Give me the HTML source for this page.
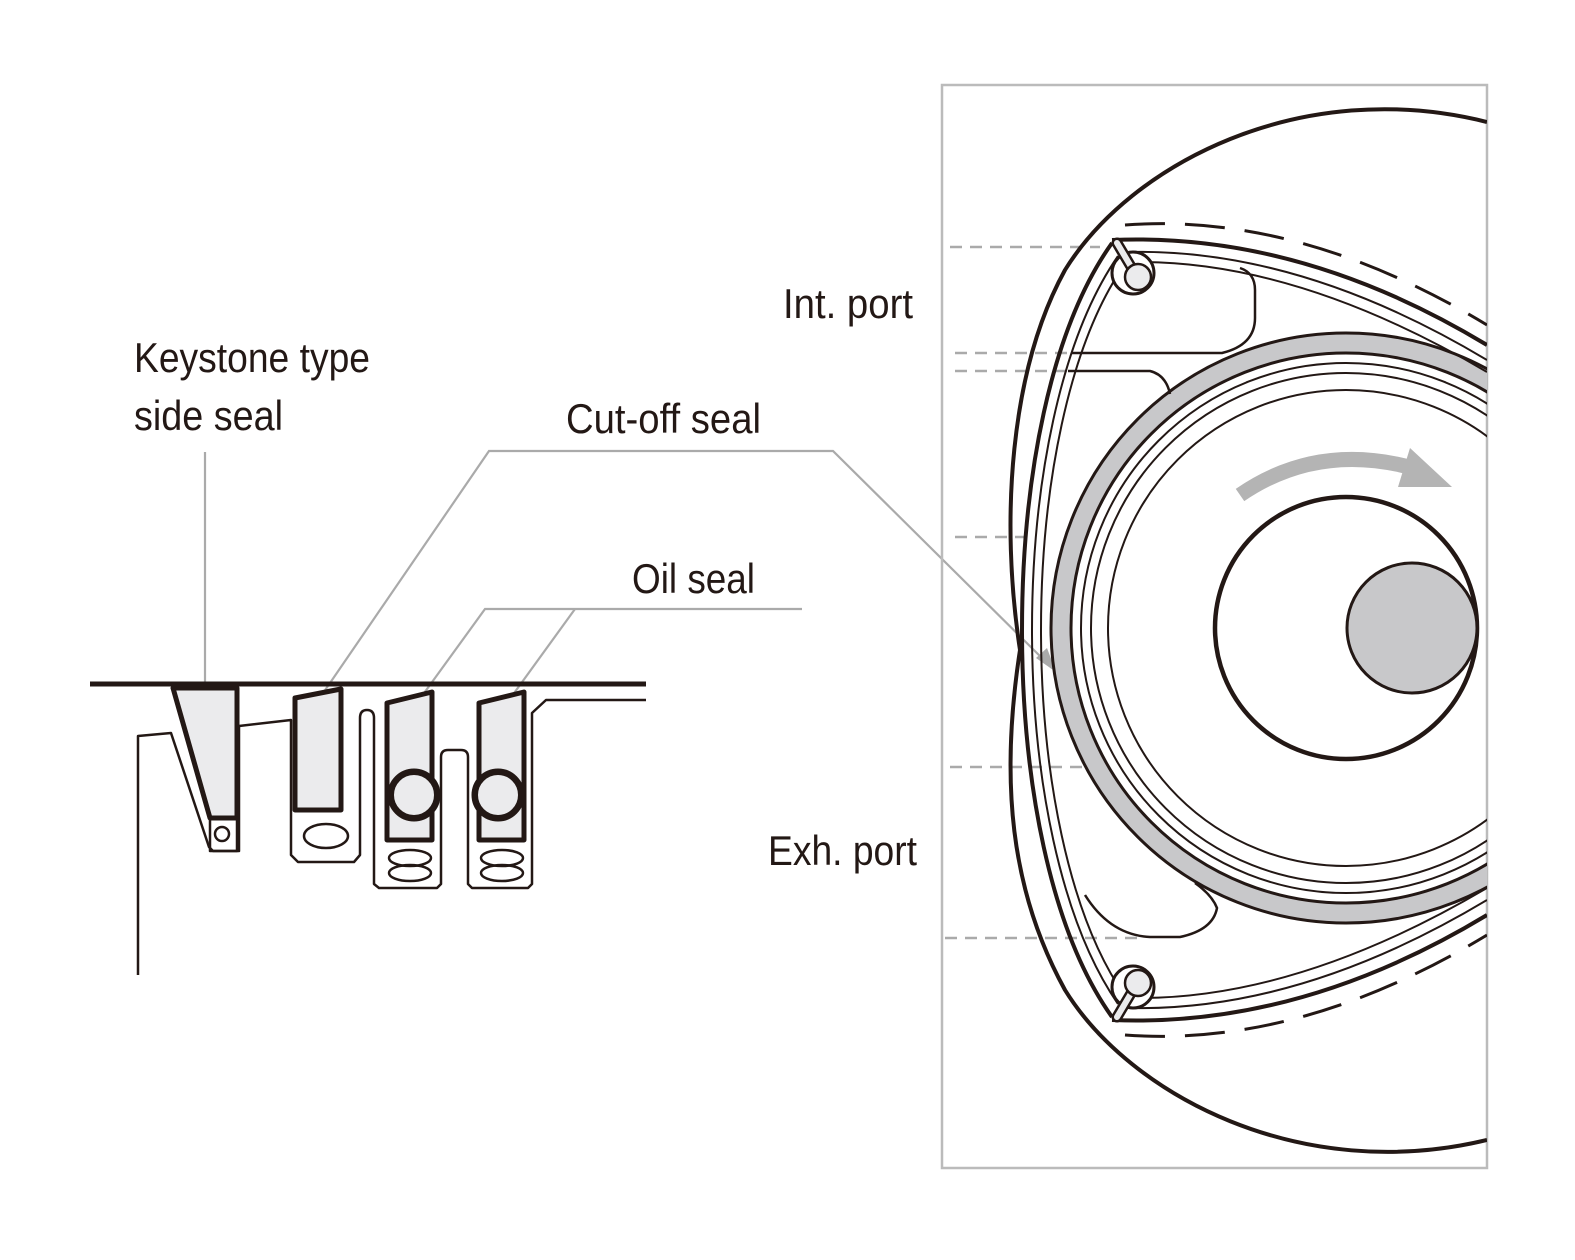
<!DOCTYPE html>
<html><head><meta charset="utf-8"><style>html,body{margin:0;padding:0;background:#fff}svg{display:block}</style></head>
<body>
<svg width="1575" height="1260" viewBox="0 0 1575 1260" xmlns="http://www.w3.org/2000/svg">
<defs>
<clipPath id="box"><rect x="942" y="85" width="545" height="1083"/></clipPath>
</defs>
<g font-family="'Liberation Sans Narrow','Liberation Sans',sans-serif" font-size="42" fill="#231815">
<text x="134" y="372" textLength="236" lengthAdjust="spacingAndGlyphs">Keystone type</text>
<text x="134" y="430" textLength="149" lengthAdjust="spacingAndGlyphs">side seal</text>
<text x="566" y="433" textLength="195" lengthAdjust="spacingAndGlyphs">Cut-off seal</text>
<text x="632" y="593" textLength="123" lengthAdjust="spacingAndGlyphs">Oil seal</text>
<text x="783" y="318" textLength="130" lengthAdjust="spacingAndGlyphs">Int. port</text>
<text x="768" y="865" textLength="149" lengthAdjust="spacingAndGlyphs">Exh. port</text>
</g>
<g stroke="#aaa" stroke-width="2.2" fill="none">
<line x1="205" y1="452" x2="205" y2="712"/>
<polyline points="1052,668 833,451 489,451 306,718"/>
<polyline points="802,609 485,609 406,718"/>
<line x1="575" y1="609" x2="496" y2="718"/>
</g>
<g fill="#aaa">
<polygon points="205,722 197,698 213,698"/>
<polygon points="302,724 306,700 318,710"/>
<polygon points="402,724 405,700 418,710"/>
<polygon points="492,724 494,700 507,710"/>
<polygon points="1056,672 1036,658 1047,648"/>
</g>
<g stroke="#231815" fill="none" stroke-linejoin="round">
<line x1="90" y1="684" x2="646" y2="684" stroke-width="5"/>
<path stroke-width="2.5" d="M138,975 L138,736 L171,733 L209,847 L213,851 L239,851 L239,726 L291,720 L291,855 L298,862 L354,862 L360,855 L360,718 Q360,710 367,710 Q374,710 374,718 L374,884 L379,888 L437,888 L441,884 L441,757 Q441,750 448,750 L461,750 Q468,750 468,757 L468,884 L472,888 L528,888 L532,884 L532,713 L546,700 L646,700"/>
<polygon points="173,688 237,688 237,818 210,818" fill="#ebebed" stroke-width="5"/>
<rect x="210" y="818" width="27" height="33" stroke-width="2.5"/>
<circle cx="222" cy="834" r="7" stroke-width="2.5"/>
<polygon points="295,698 341,689 341,810 295,810" fill="#ebebed" stroke-width="5"/>
<ellipse cx="326" cy="836" rx="22" ry="12" stroke-width="2.5"/>
<g>
<path d="M387,703 L432,692 L432,840 L387,840 Z" fill="#ebebed" stroke-width="5"/>
<circle cx="414" cy="795" r="23" fill="#fff" stroke="#231815" stroke-width="7"/>
<circle cx="414" cy="795" r="21" fill="#ebebed" stroke-width="2"/>
<ellipse cx="410" cy="858" rx="21" ry="8" stroke-width="2.5"/>
<ellipse cx="410" cy="873" rx="21" ry="8" stroke-width="2.5"/>
</g>
<g transform="translate(92,0)">
<path d="M387,703 L432,692 L432,840 L387,840 Z" fill="#ebebed" stroke-width="5"/>
<circle cx="406" cy="795" r="23" fill="#fff" stroke="#231815" stroke-width="7"/>
<circle cx="406" cy="795" r="21" fill="#ebebed" stroke-width="2"/>
<ellipse cx="410" cy="858" rx="21" ry="8" stroke-width="2.5"/>
<ellipse cx="410" cy="873" rx="21" ry="8" stroke-width="2.5"/>
</g>
</g>
<rect x="942" y="85" width="545" height="1083" fill="none" stroke="#bbb" stroke-width="2.5"/>
<g stroke="#aaa" stroke-width="2.5" stroke-dasharray="12,8">
<line x1="950" y1="247" x2="1100" y2="247"/>
<line x1="955" y1="353" x2="1075" y2="353"/>
<line x1="955" y1="371" x2="1075" y2="371"/>
<line x1="955" y1="537" x2="1035" y2="537"/>
<line x1="950" y1="767" x2="1100" y2="767"/>
<line x1="945" y1="938" x2="1140" y2="938"/>
</g>
<g clip-path="url(#box)" fill="none" stroke="#231815">
<circle cx="1346" cy="628" r="285" stroke="#c8c8ca" stroke-width="20"/>
<circle cx="1346" cy="628" r="295" stroke-width="3"/>
<circle cx="1346" cy="628" r="275" stroke-width="3"/>
<circle cx="1346" cy="628" r="265" stroke-width="2"/>
<circle cx="1346" cy="628" r="255" stroke-width="2"/>
<circle cx="1346" cy="628" r="238" stroke-width="2"/>
<circle cx="1346" cy="628" r="131" stroke-width="4.5"/>
<circle cx="1412" cy="628" r="65" fill="#c8c8ca" stroke-width="3"/>
<path d="M1487,122 C1300,75 1130,165 1065,270 C1010,370 1000,520 1020,650 C1000,780 1010,890 1065,990 C1130,1095 1300,1185 1487,1140" stroke-width="4"/>
<path d="M1112,243 C1050,330 1022,480 1022,630 C1022,780 1050,930 1112,1017" stroke-width="4"/>
<path d="M1118,256 C1060,340 1032,485 1032,630 C1032,775 1060,920 1118,1004" stroke-width="2"/>
<path d="M1125,264 C1068,345 1041,490 1041,630 C1041,770 1068,915 1125,996" stroke-width="2"/>
<path d="M1112,240 Q1300,232 1487,345" stroke-width="4"/>
<path d="M1128,252 Q1300,248 1487,360" stroke-width="2"/>
<path d="M1140,262 Q1300,262 1487,372" stroke-width="2"/>
<path d="M1125,225 Q1300,212 1487,325" stroke-width="3" stroke-dasharray="40,20"/>
<path d="M1112,1020 Q1300,1028 1487,915" stroke-width="4"/>
<path d="M1128,1008 Q1300,1012 1487,900" stroke-width="2"/>
<path d="M1140,998 Q1300,998 1487,888" stroke-width="2"/>
<path d="M1125,1035 Q1300,1048 1487,935" stroke-width="3" stroke-dasharray="40,20"/>
<path d="M1072,353 L1222,353 Q1255,345 1255,318 L1255,290 Q1255,273 1240,268" stroke-width="2.5"/>
<path d="M1068,371 L1150,371 Q1166,375 1170,394" stroke-width="2.5"/>
<path d="M1085,895 Q1110,935 1150,937 L1180,937 Q1213,930 1217,908 Q1212,895 1195,883" stroke-width="2.5"/>
<path d="M1240,495 Q1320,440 1420,470" stroke="#b4b4b4" stroke-width="15"/>
<polygon points="1410,448 1452,487 1398,487" fill="#b4b4b4" stroke="none"/>
<g>
<circle cx="1133" cy="273" r="21" fill="#fff" stroke-width="3"/>
<line x1="1117" y1="243" x2="1133" y2="270" stroke="#231815" stroke-width="11" stroke-linecap="round"/>
<line x1="1117" y1="243" x2="1133" y2="270" stroke="#ebebed" stroke-width="6" stroke-linecap="round"/>
<circle cx="1138" cy="277" r="13" fill="#ebebed" stroke-width="2.5"/>
</g>
<g>
<circle cx="1133" cy="987" r="21" fill="#fff" stroke-width="3"/>
<line x1="1117" y1="1017" x2="1133" y2="990" stroke="#231815" stroke-width="11" stroke-linecap="round"/>
<line x1="1117" y1="1017" x2="1133" y2="990" stroke="#ebebed" stroke-width="6" stroke-linecap="round"/>
<circle cx="1138" cy="983" r="13" fill="#ebebed" stroke-width="2.5"/>
</g>
</g>
</svg>
</body></html>
